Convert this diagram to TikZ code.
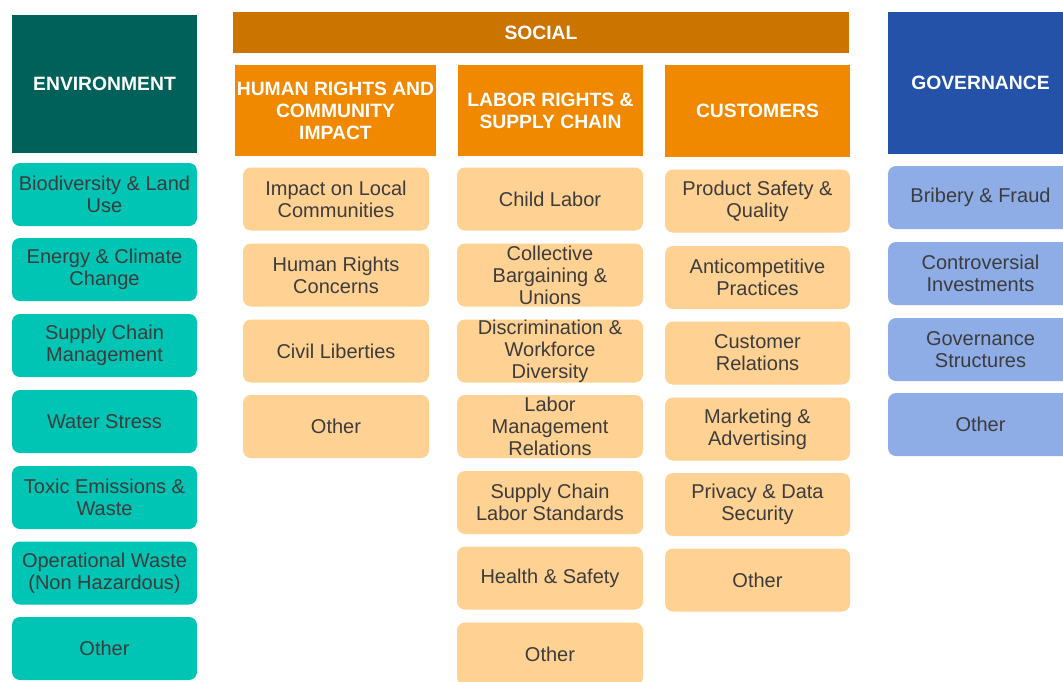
\documentclass[tikz,border=0pt]{standalone}
\usepackage{fontspec}
\setmainfont{Liberation Sans}
\definecolor{envdark}{HTML}{00605A}
\definecolor{envlight}{HTML}{00C4B4}
\definecolor{socbar}{HTML}{CC7400}
\definecolor{sochead}{HTML}{F08800}
\definecolor{socitem}{HTML}{FFD192}
\definecolor{govdark}{HTML}{2452A8}
\definecolor{govlight}{HTML}{8EACE6}
\definecolor{itemtext}{HTML}{3C3C3C}
\tikzset{
  head/.style={inner sep=0pt, text=white, font=\fontsize{19.3}{22}\selectfont\bfseries, align=center},
  item/.style={rounded corners=8pt, inner sep=0pt, text=itemtext, font=\fontsize{20}{22}\selectfont, align=center, minimum height=63pt},
  envitem/.style={item, fill=envlight, minimum width=185pt},
  socitemA/.style={item, fill=socitem, minimum width=186pt},
  custitem/.style={item, fill=socitem, minimum width=185pt},
  govitem/.style={item, fill=govlight, minimum width=185pt},
}
\begin{document}
\begin{tikzpicture}[x=1pt,y=-1pt]
\useasboundingbox (0,0) rectangle (1063,681);
\clip (0,0) rectangle (1063,681);
% Environment
\node[head, fill=envdark, minimum width=185pt, minimum height=138pt] (env) at (104.5,84) {ENVIRONMENT};
\node[envitem] (e1) at (104.5,194.5) {Biodiversity \& Land\\Use};
\node[envitem] (e2) at (104.5,269.5) {Energy \& Climate\\Change};
\node[envitem] (e3) at (104.5,345.5) {Supply Chain\\Management};
\node[envitem] (e4) at (104.5,421.5) {Water Stress};
\node[envitem] (e5) at (104.5,497.5) {Toxic Emissions \&\\Waste};
\node[envitem] (e6) at (104.5,573) {Operational Waste\\(Non Hazardous)};
\node[envitem] (e7) at (104.5,648.5) {Other};
% Social
\node[head, fill=socbar, minimum width=616pt, minimum height=41pt] (soc) at (541,32.5) {SOCIAL};
\node[head, fill=sochead, minimum width=201pt, minimum height=91pt] (hr) at (335.5,110.5) {HUMAN RIGHTS AND\\COMMUNITY\\IMPACT};
\node[head, fill=sochead, minimum width=185pt, minimum height=91pt] (lab) at (550.5,110.5) {LABOR RIGHTS \&\\SUPPLY CHAIN};
\node[head, fill=sochead, minimum width=185pt, minimum height=92pt] (cus) at (757.5,111) {CUSTOMERS};
% Human rights items
\node[socitemA] (h1) at (336,199) {Impact on Local\\Communities};
\node[socitemA] (h2) at (336,275) {Human Rights\\Concerns};
\node[socitemA] (h3) at (336,351) {Civil Liberties};
\node[socitemA] (h4) at (336,426.5) {Other};
% Labor items
\node[socitemA] (l1) at (550,199) {Child Labor};
\node[socitemA] (l2) at (550,275) {Collective\\Bargaining \&\\Unions};
\node[socitemA] (l3) at (550,351) {Discrimination \&\\Workforce\\Diversity};
\node[socitemA] (l4) at (550,426.5) {Labor\\Management\\Relations};
\node[socitemA] (l5) at (550,502.5) {Supply Chain\\Labor Standards};
\node[socitemA] (l6) at (550,578) {Health \& Safety};
\node[socitemA] (l7) at (550,654) {Other};
% Customer items
\node[custitem] (c1) at (757.5,201) {Product Safety \&\\Quality};
\node[custitem] (c2) at (757.5,277.5) {Anticompetitive\\Practices};
\node[custitem] (c3) at (757.5,353) {Customer\\Relations};
\node[custitem] (c4) at (757.5,429) {Marketing \&\\Advertising};
\node[custitem] (c5) at (757.5,504.5) {Privacy \& Data\\Security};
\node[custitem] (c6) at (757.5,580) {Other};
% Governance
\node[head, fill=govdark, minimum width=185pt, minimum height=142pt] (gov) at (980.5,83) {GOVERNANCE};
\node[govitem] (g1) at (980.5,197.5) {Bribery \& Fraud};
\node[govitem] (g2) at (980.5,273.5) {Controversial\\Investments};
\node[govitem] (g3) at (980.5,349.5) {Governance\\Structures};
\node[govitem] (g4) at (980.5,424.5) {Other};
\end{tikzpicture}
\end{document}
